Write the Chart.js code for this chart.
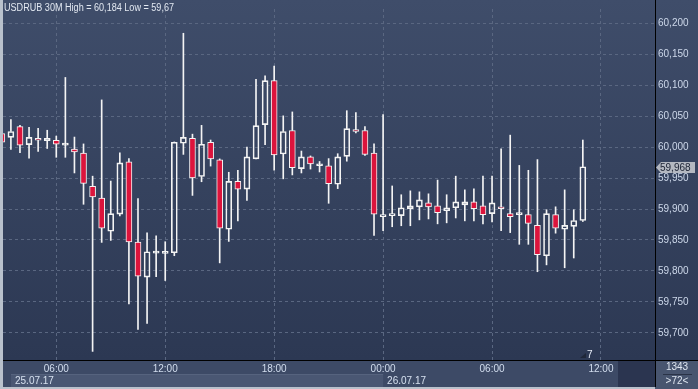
<!DOCTYPE html>
<html>
<head>
<meta charset="utf-8">
<script src="https://cdn.jsdelivr.net/npm/chart.js@4.4.0/dist/chart.umd.min.js"></script>
<style>
  html, body { margin: 0; padding: 0; background: #b9c1cc; }
  canvas { display: block; }
</style>
</head>
<body>
<canvas id="myChart" width="698" height="389"></canvas>
<script>
// USDRUB 30M candles, slot 0 = 25.07.17 03:00, one slot per half hour
let opens = [60.0221, 60.0158, 60.0332, 60.0041, 60.0142, 60.0104, 60.0111, 60.0032, 59.9968, 59.9905,
    59.9368, 59.9179, 59.8641, 59.8919, 59.9763, 59.8468, 59.7899, 59.8288, 59.8285, 59.8294,
    60.0063, 60.0142, 59.9526, 60.0079, 59.9795, 59.8673, 59.9447, 59.9321, 59.9810, 60.0363,
    60.1074, 59.9889, 60.0269, 59.9652, 59.9842, 59.9700, 59.9700, 59.9400, 59.9851, 60.0284,
    60.0269, 59.9905, 59.8878, 59.8894, 59.8894, 59.9005, 59.9036, 59.9100, 59.9052, 59.8973,
    59.9021, 59.9068, 59.9115, 59.9052, 59.8926, 59.9036, 59.8926, 59.8910, 59.8910, 59.8736,
    59.8246, 59.8910, 59.8673, 59.8720, 59.8815];
let highs = [60.0240, 60.0447, 60.0352, 60.0321, 60.0305, 60.0273, 60.0179, 60.1126, 60.0163, 60.0052,
    59.9531, 60.0763, 59.9452, 59.9910, 59.9815, 59.9167, 59.8615, 59.8567, 59.8472, 60.0084,
    60.1840, 60.0210, 60.0352, 60.0115, 59.9810, 59.9594, 59.9626, 60.0000, 60.1095, 60.1153,
    60.1311, 60.0506, 60.0569, 59.9937, 59.9858, 59.9768, 59.9815, 59.9894, 60.0589, 60.0558,
    60.0332, 60.0052, 60.0526, 59.9373, 59.9231, 59.9294, 59.9278, 59.9246, 59.9468, 59.9231,
    59.9531, 59.9310, 59.9325, 59.9531, 59.9531, 59.9973, 60.0194, 59.9705, 59.9626, 59.9799,
    59.8989, 59.9036, 59.9310, 59.8989, 60.0115];
let lows = [60.0060, 59.9962, 59.9910, 59.9820, 59.9930, 59.9978, 59.9836, 59.9836, 59.9583, 59.9077,
    59.6700, 59.8461, 59.8493, 59.8888, 59.7466, 59.7055, 59.7150, 59.7908, 59.7845, 59.8246,
    59.9883, 59.9220, 59.9441, 59.9694, 59.8130, 59.8477, 59.8809, 59.9141, 59.9810, 60.0041,
    59.9630, 59.9488, 59.9551, 59.9583, 59.9646, 59.9599, 59.9093, 59.9330, 59.9773, 60.0231,
    59.9867, 59.8572, 59.8651, 59.8714, 59.8730, 59.8730, 59.8825, 59.8840, 59.8761, 59.8777,
    59.8856, 59.8809, 59.8809, 59.8761, 59.8793, 59.8651, 59.8619, 59.8430, 59.8430, 59.7987,
    59.8098, 59.8610, 59.8051, 59.8209, 59.8799];
let closes = [60.0079, 60.0253, 60.0032, 60.0158, 60.0111, 60.0142, 60.0047, 60.0032, 59.9921, 59.9415,
    59.9194, 59.8689, 59.8926, 59.9747, 59.8468, 59.7915, 59.8310, 59.8288, 59.8291, 60.0079,
    60.0158, 59.9504, 60.0047, 59.9810, 59.8689, 59.9447, 59.9321, 59.9842, 60.0348, 60.1074,
    59.9874, 60.0253, 59.9668, 59.9842, 59.9731, 59.9700, 59.9409, 59.9842, 60.0300, 60.0253,
    59.9883, 59.8919, 59.8910, 59.8926, 59.9021, 59.9052, 59.9147, 59.9036, 59.8942, 59.9021,
    59.9115, 59.9115, 59.9005, 59.8910, 59.9100, 59.9005, 59.8878, 59.8910, 59.8768, 59.8262,
    59.8926, 59.8689, 59.8736, 59.8815, 59.9684];

let tickSlots = [6, 18, 30, 42, 54, 66];
let tickLabels = ['06:00', '12:00', '18:00', '00:00', '06:00', '12:00'];
let dateSlots = [0, 42];
let dateLabels = ['25.07.17', '26.07.17'];
let title = 'USDRUB 30M High = 60,184 Low = 59,67';
let barTotal = '1343';
let barsShown = '>72<';

let wickColor = '#f4f4f4';
let downColor = '#dc143c';
let labelFont = { family: 'Liberation Sans', size: 10 };

// build the floating bars from the OHLC lists
let slots = opens.map((o, i) => i);
let upperWicks = slots.map(i => ({ x: i, y: [Math.max(opens[i], closes[i]), highs[i]] }));
let lowerWicks = slots.map(i => ({ x: i, y: [lows[i], Math.min(opens[i], closes[i])] }));
let bodies = slots.map(i => ({ x: i, y: [opens[i], closes[i]] }));
let bodyColors = slots.map(i => closes[i] < opens[i] ? downColor : 'rgba(0,0,0,0)');

function price(v) {
    return v.toFixed(3).replace('.', ',');
}

let backdrop = {
    id: 'backdrop',
    beforeDraw(chart) {
        let c = chart.ctx, a = chart.chartArea, W = chart.width, H = chart.height;
        c.save();
        c.fillStyle = '#b9c1cc';
        c.fillRect(0, 0, W, H);
        let g = c.createLinearGradient(0, 0, 0, a.bottom);
        g.addColorStop(0, '#3f4d6a');
        g.addColorStop(1, '#2c3853');
        c.fillStyle = g;
        c.fillRect(a.left, 0, W - a.left, a.bottom);
        // time strip and date row
        c.fillStyle = '#3d4a66';
        c.fillRect(a.left, a.bottom, W - a.left, H - 2 - a.bottom);
        let xs = chart.scales.x;
        let dayX = xs.getPixelForValue(dateSlots[1]);
        c.fillStyle = '#4a5773';
        c.fillRect(a.left + 8, 374, dayX - a.left - 8, 13);
        c.fillStyle = '#56637e';
        c.fillRect(a.left + 8, 374, dayX - a.left - 8, 1);
        c.fillStyle = '#2b3550';
        c.fillRect(618, a.bottom, a.right - 618, H - 2 - a.bottom);
        c.fillStyle = '#48556f';
        c.fillRect(a.right, a.bottom, W - a.right, H - a.bottom);
        c.restore();
    },
    afterDraw(chart) {
        let c = chart.ctx, a = chart.chartArea, W = chart.width, H = chart.height;
        let xs = chart.scales.x, ys = chart.scales.y;
        c.save();
        c.strokeStyle = '#000';
        c.lineWidth = 1;
        c.beginPath();
        c.moveTo(a.left, a.bottom + 0.5); c.lineTo(W, a.bottom + 0.5);
        c.moveTo(a.right + 0.5, 0); c.lineTo(a.right + 0.5, H - 2);
        c.stroke();

        c.font = '10px "Liberation Sans"';
        c.textBaseline = 'middle';
        c.fillStyle = '#e2e8f1';
        c.fillText(title, 4, 8, 170);

        // dates
        c.fillStyle = '#d6e0ef';
        dateLabels.forEach((d, i) => {
            let px = Math.max(xs.getPixelForValue(dateSlots[i]), a.left + 8);
            c.fillText(d, px + 4, 381);
        });

        // last price tag
        let last = closes[closes.length - 1];
        let py = Math.round(ys.getPixelForValue(last)) + 0.5;
        c.fillStyle = '#b4b8c1';
        c.beginPath();
        c.moveTo(a.right + 1, py);
        c.lineTo(a.right + 6, py - 5.5);
        c.lineTo(W - 3, py - 5.5);
        c.lineTo(W - 3, py + 5.5);
        c.lineTo(a.right + 6, py + 5.5);
        c.closePath();
        c.fill();
        c.fillStyle = '#1b2233';
        c.fillText(price(last), a.right + 5, py + 0.5);

        // bar counter box
        c.textAlign = 'center';
        c.fillStyle = '#dfe6f0';
        c.fillText(barTotal, 677, 367);
        c.fillText(barsShown, 677, 381);
        c.fillStyle = '#2a3347';
        c.fillRect(663, 374, 29, 1);

        // small marker near last bar
        c.fillStyle = '#1f2739';
        c.beginPath();
        c.moveTo(580, 358); c.lineTo(586, 358); c.lineTo(586, 353); c.closePath();
        c.fill();
        c.fillStyle = '#e8eef8';
        c.textAlign = 'left';
        c.fillText('7', 587, 355);
        c.restore();
    }
};

let ctx = document.getElementById('myChart').getContext('2d');
let chart = new Chart(ctx, {
    type: 'bar',
    data: {
        datasets: [
            { data: upperWicks, grouped: false, barThickness: 1, backgroundColor: wickColor, borderWidth: 0 },
            { data: lowerWicks, grouped: false, barThickness: 1, backgroundColor: wickColor, borderWidth: 0 },
            {
                data: bodies, grouped: false, barThickness: 6, minBarLength: 2,
                backgroundColor: bodyColors, borderColor: wickColor, borderWidth: 1, borderSkipped: false
            }
        ]
    },
    options: {
        responsive: false,
        animation: false,
        devicePixelRatio: 1,
        layout: { padding: { left: 3, top: 1, right: 0, bottom: 0 } },
        plugins: { legend: { display: false }, tooltip: { enabled: false } },
        scales: {
            x: {
                type: 'linear', min: 0.13, max: 71.95, offset: false,
                afterBuildTicks: s => { s.ticks = tickSlots.map(v => ({ value: v })); },
                afterFit: s => { s.height = 29; },
                ticks: {
                    callback: v => tickLabels[tickSlots.indexOf(v)],
                    color: '#d3deef', font: labelFont, padding: 3, maxRotation: 0, autoSkip: false
                },
                grid: { color: '#5a6781', drawTicks: false, offset: false },
                border: { color: '#000', width: 1, dash: [3, 3] }
            },
            y: {
                type: 'linear', position: 'right', min: 59.6561, max: 60.2232, beginAtZero: false,
                afterFit: s => { s.width = 43; },
                ticks: {
                    stepSize: 0.05, includeBounds: false, callback: v => price(v),
                    color: '#cdd8ea', font: labelFont, padding: 3
                },
                grid: { color: '#5a6781', drawTicks: false },
                border: { color: '#000', width: 1, dash: [3, 3] }
            }
        }
    },
    plugins: [backdrop]
});
</script>
</body>
</html>
